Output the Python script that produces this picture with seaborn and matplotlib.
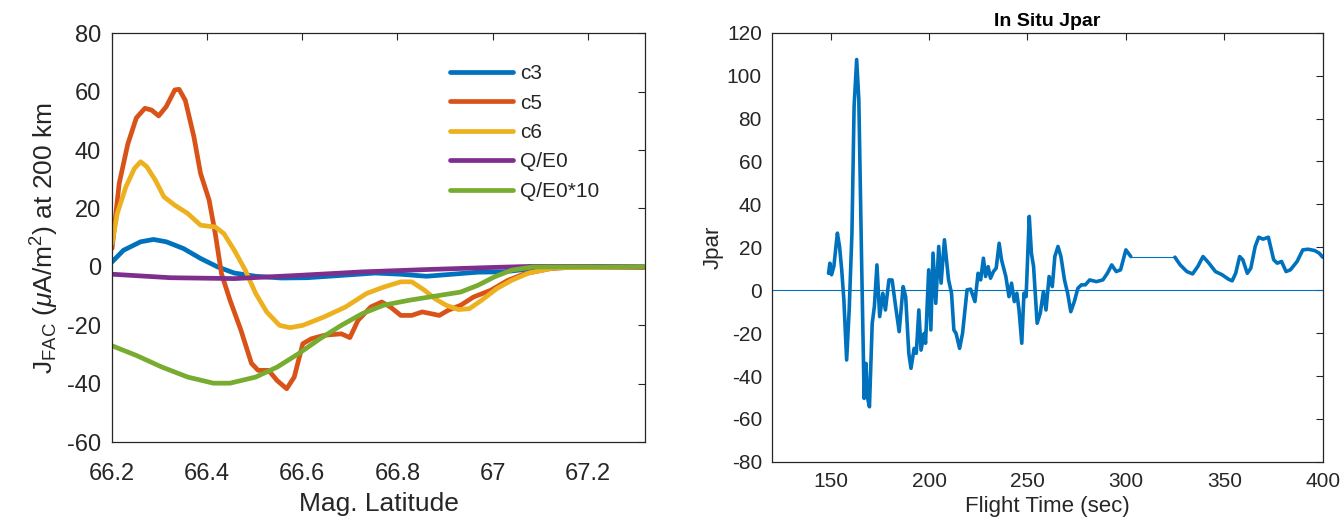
import matplotlib
matplotlib.use('Agg')
import matplotlib.pyplot as plt
import numpy as np
import pandas as pd
import seaborn as sns

# ---- left panel: FAC vs magnetic latitude ----
c5_lat = [66.2, 66.215, 66.233, 66.251, 66.269, 66.283, 66.298, 66.314, 66.332, 66.341, 66.354, 66.372,
          66.386, 66.404, 66.417, 66.43, 66.448, 66.471, 66.493, 66.507, 66.529, 66.547, 66.567, 66.583,
          66.601, 66.619, 66.646, 66.682, 66.7, 66.717, 66.744, 66.767, 66.785, 66.807, 66.83, 66.852,
          66.87, 66.888, 66.906, 66.933, 66.96, 66.996, 67.032, 67.068, 67.121, 67.175, 67.318]
c5_val = [6.3, 28.6, 42, 51, 54.3, 53.7, 51.7, 54.9, 60.6, 60.8, 57, 44.6,
          32, 22.9, 11.4, -2.3, -11.4, -21.7, -33, -35.4, -35.4, -38.9, -41.7, -37.7,
          -26.3, -24.6, -23.4, -22.9, -24.2, -18.3, -13.7, -12, -13.7, -16.6, -16.6, -15.4,
          -16, -16.6, -14.9, -13.1, -10.3, -8, -4.6, -2.3, -0.6, 0, -0.2]

c6_lat = [66.2, 66.211, 66.229, 66.247, 66.26, 66.273, 66.291, 66.309, 66.332, 66.359, 66.386, 66.404,
          66.417, 66.435, 66.457, 66.48, 66.502, 66.525, 66.552, 66.574, 66.601, 66.646, 66.691, 66.735,
          66.771, 66.807, 66.83, 66.857, 66.879, 66.902, 66.928, 66.951, 66.977, 67.009, 67.04, 67.076,
          67.13, 67.318]
c6_val = [8, 18.3, 27.4, 33.7, 36, 34.3, 29.7, 24, 21.1, 18.3, 14.3, 13.9,
          13.7, 11.4, 5.7, -1.1, -9.1, -15.4, -20, -20.8, -20, -17.1, -13.7, -9.1,
          -6.9, -5.1, -5.1, -8, -10.9, -13.1, -14.6, -14.3, -11.4, -7.4, -4.6, -2.1,
          -0.3, 0]

c3_lat = [66.2, 66.224, 66.26, 66.287, 66.314, 66.35, 66.386, 66.422, 66.457, 66.502, 66.556, 66.61,
          66.682, 66.753, 66.807, 66.861, 66.915, 66.969, 67.022, 67.067, 67.13, 67.22, 67.318]
c3_val = [1.7, 5.7, 8.6, 9.4, 8.6, 6.3, 2.9, 0, -2.1, -3.2, -3.8, -3.7,
          -2.9, -2.1, -2.5, -3.2, -2.5, -1.8, -1.7, -0.9, 0, 0.2, 0]

qe_lat = [66.2, 66.323, 66.457, 66.592, 66.726, 66.861, 66.996, 67.085, 67.318]
qe_val = [-2.5, -3.7, -4, -2.9, -1.7, -0.9, -0.2, 0.2, 0]

qe10_lat = [66.2, 66.251, 66.305, 66.359, 66.413, 66.448, 66.502, 66.547, 66.592, 66.637, 66.682, 66.726,
            66.771, 66.825, 66.879, 66.933, 66.969, 67.004, 67.04, 67.085, 67.318]
qe10_val = [-27, -30.3, -34.3, -37.7, -39.8, -39.8, -37.7, -34.3, -29.7, -24.6, -20, -16,
            -13.1, -11.4, -10, -8.6, -6.3, -3.4, -1.1, 0, 0]

# ---- right panel: in situ Jpar vs flight time ----
# first stretch, before the data gap
jpar1_t = [148.9, 149.6, 150.4, 151.6, 153.4, 154.5, 155.6, 156.7, 158.1, 159.4, 160.8, 161.9, 163.2,
           164.3, 165.7, 167, 167.9, 168.8, 169.7, 171.1, 172.2, 173.5, 174.9, 176.5, 177.8, 179.6,
           181.2, 183, 184.8, 186.8, 188.1, 189.7, 190.8, 192.4, 193.5, 194.8, 195.9, 197.5, 198.2,
           199.8, 200.9, 202, 203.4, 204.9, 206.1, 207.8, 209.9, 211.4, 212.6, 213.7, 215.5, 217,
           219.3, 221.1, 223.3, 224.9, 226.2, 227.6, 228.7, 230, 231.2, 232.7, 234.1, 235.6, 236.8,
           239, 240.6, 241.9, 243.3, 244.6, 245.7, 247.1, 248.2, 249.3, 250.9, 252, 253.1, 254.9,
           256.5, 258.1, 259.4, 261, 262.6, 263.9, 265.5, 267, 268.8, 270.4, 272, 273.8, 275.6,
           277.4, 279.4, 281.6, 285, 288.3, 290.6, 292.8, 295.1, 297.3, 300, 302.5]
jpar1_v = [7.9, 12.6, 7.2, 11, 26.6, 20.4, 9.5, -4.5, -32.5, -9.2, 26.6, 85.8, 107.5,
           88.9, 14.2, -50.4, -34.1, -50.4, -54.3, -15.4, -7.6, 11.8, -12.3, -1.4, -9.2, 4.8,
           4.8, -7.6, -19.3, 1.7, -3, -29.4, -36.4, -27.1, -29.4, -9.2, -27.9, -20.1, -24.7,
           9.5, -18.5, 17.3, -6.1, 20.4, 3.3, 23.5, 4.8, -1.4, -18.5, -20.1, -27.1, -20.1,
           0.2, 0.5, -5.3, 7.9, 4.8, 14.9, 6.4, 11, 5.6, 8.7, 10.3, 21.9, 14.2,
           6.4, -3, 3.3, -5.3, -1.4, -9.2, -24.7, -1.4, -3, 34.4, 17.3, 11, -15.4,
           -10.7, -0.6, -9.2, 6.4, 1.7, 15.7, 20.4, 15.7, 4.8, -1.4, -10, -5.3, 0.9,
           2.5, 2.5, 4.8, 4, 4.8, 7.9, 11.8, 8.7, 9.5, 18.8, 15.7]
# thin bridge across the gap
gap_t = [302.5, 324.9]
gap_v = [15.4, 15.4]
# second stretch, after the gap
jpar2_t = [324.9, 327.6, 331, 333.9, 336.5, 339.2, 342.2, 345.5, 348.9, 352.2, 354, 355.8, 357.8,
           359.4, 361.7, 363.5, 365.7, 367.5, 369.7, 372.4, 375.1, 376.9, 379.1, 381.4, 383.6, 387,
           389.9, 392.6, 395.9, 398.2, 400]
jpar2_v = [15.4, 11.8, 8.7, 7.6, 11, 15.7, 12.6, 8.7, 7.2, 5.1, 4.4, 7.9, 15.7,
           14.2, 7.9, 10.3, 20.4, 24.7, 23.8, 24.7, 14.2, 12.6, 13.4, 8.7, 9.5, 13.4,
           18.8, 19.1, 18.5, 17.3, 15.4]

series = [('c3', c3_lat, c3_val, '#0072BD'),
          ('c5', c5_lat, c5_val, '#D95319'),
          ('c6', c6_lat, c6_val, '#EDB120'),
          ('Q/E0', qe_lat, qe_val, '#7E2F8E'),
          ('Q/E0*10', qe10_lat, qe10_val, '#77AC30')]

sns.set_theme(style='white')
plt.rcParams['font.family'] = ['Liberation Sans', 'DejaVu Sans']
plt.rcParams['mathtext.fontset'] = 'custom'
plt.rcParams['mathtext.rm'] = 'Liberation Sans'
plt.rcParams['mathtext.it'] = 'Liberation Sans:italic'
plt.rcParams['axes.unicode_minus'] = False

edge = '#262626'
fig = plt.figure(figsize=(13.42, 5.19), dpi=100)
ax1 = fig.add_axes([0.0835, 0.148, 0.397, 0.788])
ax2 = fig.add_axes([0.575, 0.110, 0.4106, 0.827])


def matlab_axes(ax, size, pad):
    for sp in ax.spines.values():
        sp.set_visible(True)
        sp.set_color(edge)
        sp.set_linewidth(0.9)
    ax.tick_params(direction='in', top=True, right=True, length=5, width=0.8,
                   color=edge, labelcolor=edge, labelsize=size, pad=pad)


# left
for name, lat, val, col in series:
    df = pd.DataFrame({'lat': lat, 'val': val})
    sns.lineplot(data=df, x='lat', y='val', ax=ax1, color=col, linewidth=3.4, label=name, sort=False)
ax1.set_xlim(66.2, 67.32)
ax1.set_ylim(-60, 80)
ax1.set_xticks([66.2, 66.4, 66.6, 66.8, 67.0, 67.2])
ax1.set_xticklabels(['66.2', '66.4', '66.6', '66.8', '67', '67.2'])
ax1.set_yticks(np.arange(-60, 81, 20))
matlab_axes(ax1, 17, 8)
ax1.tick_params(axis='x', pad=15)
ax1.set_xlabel('Mag. Latitude', fontsize=19, color=edge, labelpad=5)
ax1.set_ylabel(r'J$_{\rm FAC}$ ($\mu$A/m$^2$) at 200 km', fontsize=19, color=edge, labelpad=4)
leg = ax1.legend(loc='upper left', frameon=False, fontsize=15, handlelength=3.0,
                 handletextpad=0.35, labelspacing=0.5, bbox_to_anchor=(0.6, 0.97))
for t in leg.get_texts():
    t.set_color(edge)

# right
for tt, vv, lw in [(jpar1_t, jpar1_v, 2.6), (gap_t, gap_v, 0.8), (jpar2_t, jpar2_v, 2.6)]:
    sns.lineplot(data=pd.DataFrame({'t': tt, 'v': vv}), x='t', y='v', ax=ax2,
                 color='#0072BD', linewidth=lw, sort=False)
ax2.axhline(0, color='#0072BD', linewidth=0.8)
ax2.set_xlim(120, 400)
ax2.set_ylim(-80, 120)
ax2.set_xticks(np.arange(150, 401, 50))
ax2.set_yticks(np.arange(-80, 121, 20))
matlab_axes(ax2, 15, 7)
ax2.set_xlabel('Flight Time (sec)', fontsize=16, color=edge, labelpad=4)
ax2.set_ylabel('Jpar', fontsize=16, color=edge, labelpad=2)
ax2.set_title('In Situ Jpar', fontsize=14, fontweight='bold', color='black', pad=5)

fig.savefig('out.png', dpi=100)
